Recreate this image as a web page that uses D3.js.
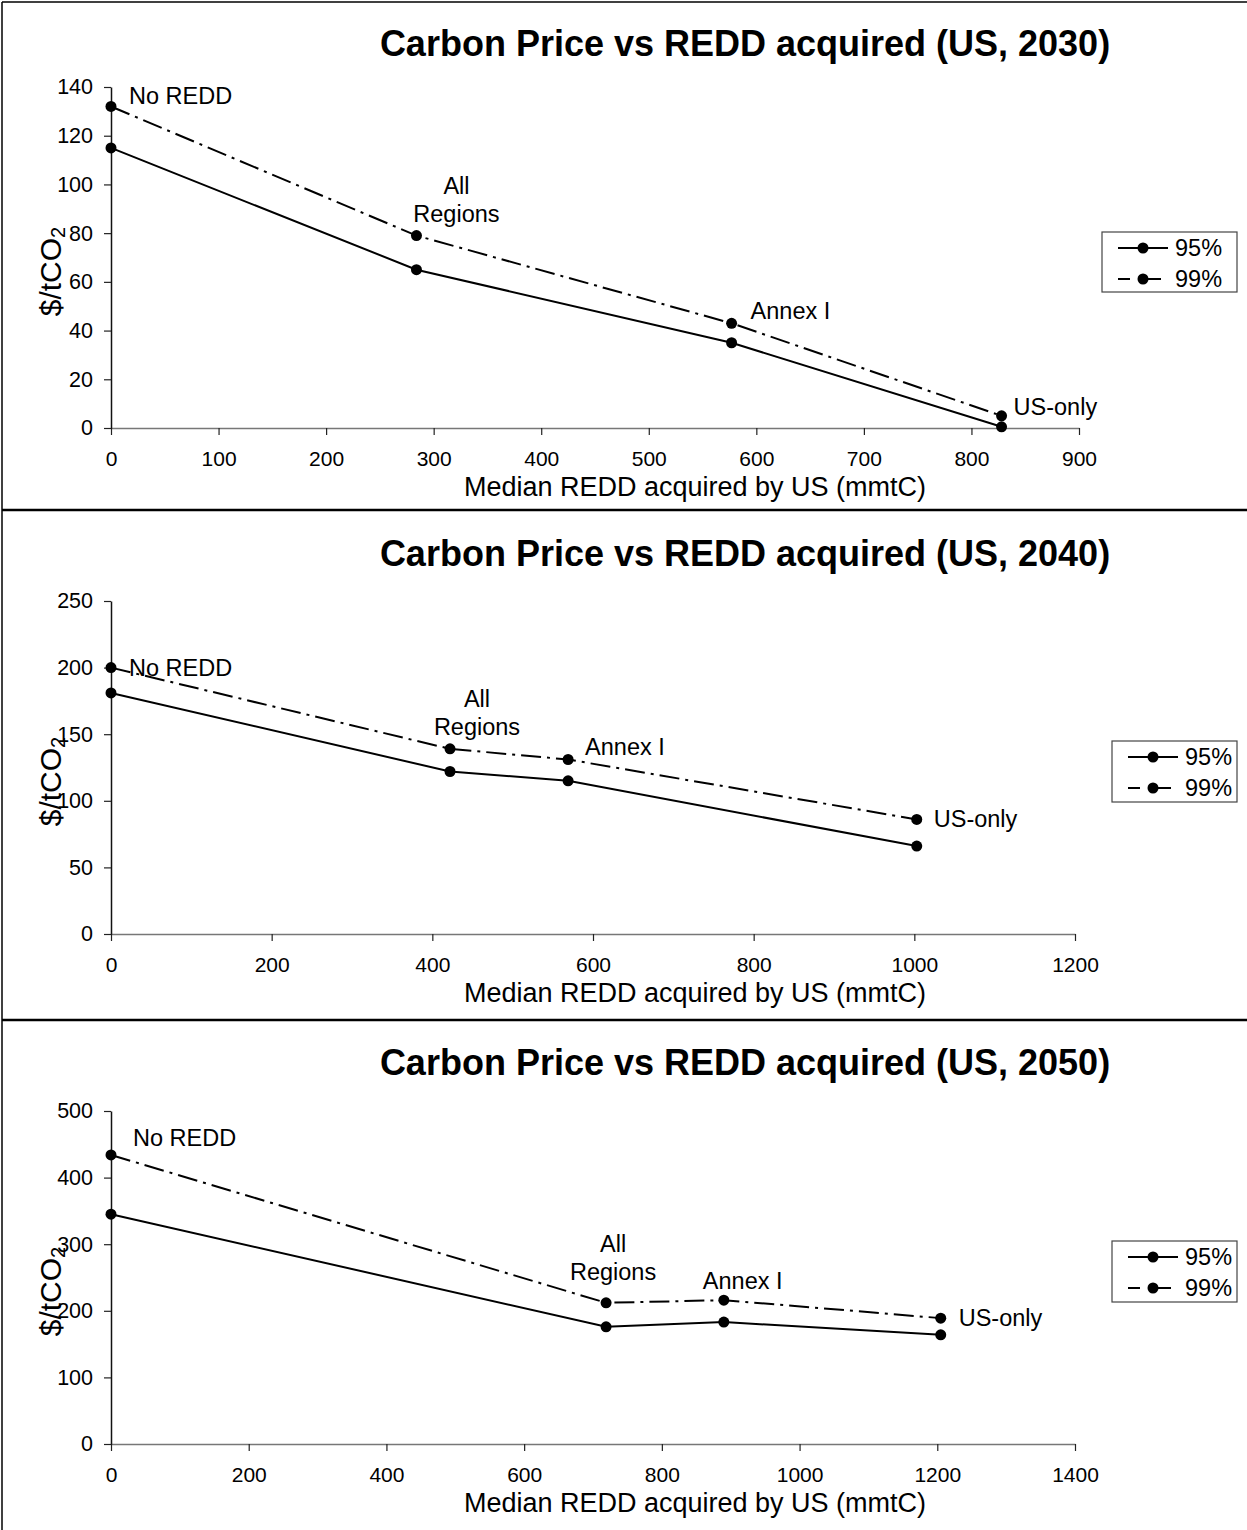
<!DOCTYPE html>
<html>
<head>
<meta charset="utf-8">
<script src="https://cdnjs.cloudflare.com/ajax/libs/d3/7.8.5/d3.min.js"></script>
<style>
  body { margin: 0; background: #fff; }
  text { font-family: Arial, 'Liberation Sans', sans-serif; fill: #000; }
</style>
</head>
<body>
<div id="chart"></div>
<script>
// data
var regions = ['No REDD', 'All Regions', 'Annex I', 'US-only']
var years = [2030, 2040, 2050]
var series = ['95%', '99%']

var redd2030 = [0, 284, 577, 828]
var p95_2030 = [115, 65, 35, 0.5]
var p99_2030 = [132, 79, 43, 5]

var redd2040 = [0, 422, 569, 1003]
var p95_2040 = [181, 122, 115, 66]
var p99_2040 = [200, 139, 131, 86]

var redd2050 = [0, 719, 890, 1205]
var p95_2050 = [345, 176, 183, 164]
var p99_2050 = [434, 212, 216, 189]

var xMax = [900, 1200, 1400]
var xStep = [100, 200, 200]
var yMax = [140, 250, 500]
var yStep = [20, 50, 100]

// layout per panel (pixels)
var layout = [
  { top: 87, bottom: 428, left: 111, right: 1079, title: 43, legend: [1102, 232, 135, 60],
    labels: [[18, -10], [40, -50], [19, -12], [12, -9]] },
  { top: 601, bottom: 934, left: 111, right: 1075, title: 553, legend: [1112, 741, 125, 61],
    labels: [[18, 0], [27, -50], [17, -13], [17, 0]] },
  { top: 1111, bottom: 1444, left: 111, right: 1075, title: 1062, legend: [1112, 1241, 125, 61],
    labels: [[22, -17], [7, -59], [-21, -19], [18, 0]] }
]

var reddByYear = [redd2030, redd2040, redd2050]
var p95ByYear = [p95_2030, p95_2040, p95_2050]
var p99ByYear = [p99_2030, p99_2040, p99_2050]

var width = 1247
var height = 1530
var dash99 = '20,6,3,6'
var FONT = 'Arial, Liberation Sans, sans-serif'

var svg = d3.select('#chart')
  .append('svg')
  .attr('width', width)
  .attr('height', height)

// frame: top + left border and panel separators
svg.append('line').attr('x1', 2).attr('x2', width).attr('y1', 2).attr('y2', 2)
  .attr('stroke', '#000').attr('stroke-width', 1.5)
svg.append('line').attr('x1', 2).attr('x2', 2).attr('y1', 2).attr('y2', height)
  .attr('stroke', '#000').attr('stroke-width', 1.5)
;[510, 1020].forEach(function (y) {
  svg.append('line').attr('x1', 2).attr('x2', width).attr('y1', y).attr('y2', y)
    .attr('stroke', '#000').attr('stroke-width', 2.5)
})

years.forEach(function (year, i) {
  var L = layout[i]
  var g = svg.append('g')

  var x = d3.scaleLinear().domain([0, xMax[i]]).range([L.left, L.right])
  var y = d3.scaleLinear().domain([0, yMax[i]]).range([L.bottom, L.top])

  // title
  g.append('text')
    .attr('x', 745)
    .attr('y', L.title)
    .attr('text-anchor', 'middle')
    .attr('dominant-baseline', 'central')
    .attr('font-size', '36px')
    .attr('font-weight', 'bold')
    .text('Carbon Price vs REDD acquired (US, ' + year + ')')

  // x axis
  var xAxis = g.append('g')
    .attr('transform', 'translate(0,' + L.bottom + ')')
    .call(d3.axisBottom(x)
      .tickValues(d3.range(0, xMax[i] + 1, xStep[i]))
      .tickFormat(d3.format('d'))
      .tickSize(7).tickSizeOuter(0).tickPadding(16))
  xAxis.select('.domain').attr('stroke', '#777').attr('stroke-width', 1.5)
  xAxis.selectAll('.tick line').attr('stroke', '#222').attr('stroke-width', 1.2)
  xAxis.selectAll('.tick text').attr('font-size', '21px').attr('font-family', FONT).attr('fill', '#000')

  // y axis
  var yAxis = g.append('g')
    .attr('transform', 'translate(' + L.left + ',0)')
    .call(d3.axisLeft(y)
      .tickValues(d3.range(0, yMax[i] + 1, yStep[i]))
      .tickFormat(d3.format('d'))
      .tickSize(7).tickSizeOuter(0).tickPadding(11))
  yAxis.select('.domain').attr('stroke', '#111').attr('stroke-width', 1.5)
  yAxis.selectAll('.tick line').attr('stroke', '#222').attr('stroke-width', 1.2)
  yAxis.selectAll('.tick text').attr('font-size', '21.5px').attr('font-family', FONT).attr('fill', '#000')

  // axis titles
  g.append('text')
    .attr('x', 695)
    .attr('y', L.bottom + 59)
    .attr('text-anchor', 'middle')
    .attr('dominant-baseline', 'central')
    .attr('font-size', '27px')
    .text('Median REDD acquired by US (mmtC)')

  var yl = g.append('text')
    .attr('transform', 'translate(50,' + ((L.top + L.bottom) / 2 + 14) + ') rotate(-90)')
    .attr('text-anchor', 'middle')
    .attr('dominant-baseline', 'central')
    .attr('font-size', '30px')
  yl.append('tspan').text('$/tCO')
  yl.append('tspan').attr('font-size', '20px').attr('dy', 8).text('2')

  // lines and points
  var redd = reddByYear[i]
  var vals = [p95ByYear[i], p99ByYear[i]]
  var line = d3.line().x(function (d) { return x(d[0]) }).y(function (d) { return y(d[1]) })

  vals.forEach(function (v, s) {
    var pts = redd.map(function (r, k) { return [r, v[k]] })
    g.append('path')
      .datum(pts)
      .attr('d', line)
      .attr('fill', 'none')
      .attr('stroke', '#000')
      .attr('stroke-width', 2)
      .attr('stroke-dasharray', s === 1 ? dash99 : null)
    g.selectAll('.pt' + s)
      .data(pts)
      .enter()
      .append('circle')
      .attr('cx', function (d) { return x(d[0]) })
      .attr('cy', function (d) { return y(d[1]) })
      .attr('r', 5.5)
      .attr('fill', '#000')
  })

  // region labels, placed off the 99% point
  regions.forEach(function (name, k) {
    var px = x(redd[k]) + L.labels[k][0]
    var py = y(vals[1][k]) + L.labels[k][1]
    if (name === 'All Regions') {
      g.append('text').attr('x', px).attr('y', py).attr('text-anchor', 'middle')
        .attr('dominant-baseline', 'central').attr('font-size', '23.5px').text('All')
      g.append('text').attr('x', px).attr('y', py + 28).attr('text-anchor', 'middle')
        .attr('dominant-baseline', 'central').attr('font-size', '23.5px').text('Regions')
    } else {
      g.append('text').attr('x', px).attr('y', py)
        .attr('dominant-baseline', 'central').attr('font-size', '23.5px').text(name)
    }
  })

  // legend
  var lg = L.legend
  g.append('rect')
    .attr('x', lg[0]).attr('y', lg[1]).attr('width', lg[2]).attr('height', lg[3])
    .attr('fill', '#fff').attr('stroke', '#444').attr('stroke-width', 1.2)
  series.forEach(function (name, s) {
    var ly = lg[1] + 16 + s * 31
    var lx = lg[0] + 16
    if (s === 0) {
      g.append('line').attr('x1', lx).attr('x2', lx + 50).attr('y1', ly).attr('y2', ly)
        .attr('stroke', '#000').attr('stroke-width', 2)
    } else {
      g.append('line').attr('x1', lx).attr('x2', lx + 12).attr('y1', ly).attr('y2', ly)
        .attr('stroke', '#000').attr('stroke-width', 2)
      g.append('line').attr('x1', lx + 30).attr('x2', lx + 43).attr('y1', ly).attr('y2', ly)
        .attr('stroke', '#000').attr('stroke-width', 2)
    }
    g.append('circle').attr('cx', lx + 25).attr('cy', ly).attr('r', 5.5).attr('fill', '#000')
    g.append('text').attr('x', lx + 57).attr('y', ly)
      .attr('dominant-baseline', 'central').attr('font-size', '23.5px').text(name)
  })
})
</script>
</body>
</html>
